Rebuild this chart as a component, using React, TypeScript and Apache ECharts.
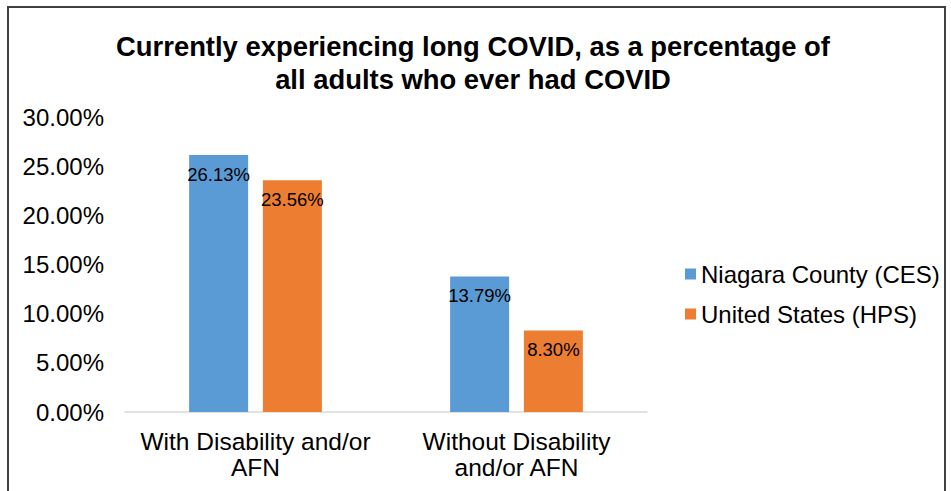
import React, { useEffect, useRef } from "react";
import * as echarts from "echarts";

const titleLines = [
  "Currently experiencing long COVID, as a percentage of",
  "all adults who ever had COVID",
];
const categories = ["With Disability and/or\nAFN", "Without Disability\nand/or AFN"];
const seriesNames = ["Niagara County (CES)", "United States (HPS)"];
const niagaraValues = [26.13, 13.79];
const usValues = [23.56, 8.3];
const colors = ["#5B9BD5", "#ED7D31"];

const FONT = "'Liberation Sans', Arial, sans-serif";

export default function App() {
  const ref = useRef<HTMLDivElement>(null);
  useEffect(() => {
    if (!ref.current) return;
    const chart = echarts.init(ref.current, undefined, { renderer: "svg" });
    const labelCfg = {
      show: true,
      position: "insideTop",
      distance: 10,
      fontFamily: FONT,
      fontSize: 18.5,
      color: "#000000",
      formatter: (p: any) => p.value.toFixed(2) + "%",
    };
    chart.setOption({
      animation: false,
      backgroundColor: "#ffffff",
      textStyle: { fontFamily: FONT },
      title: {
        text: titleLines.join("\n"),
        left: 468,
        top: 25,
        textAlign: "center",
        textStyle: {
          fontFamily: FONT,
          fontSize: 27.4,
          fontWeight: "bold",
          color: "#000000",
          lineHeight: 33,
        },
      },
      legend: {
        orient: "vertical",
        left: 680,
        top: 257,
        itemWidth: 11,
        itemHeight: 11,
        itemGap: 16,
        icon: "rect",
        data: seriesNames,
        textStyle: { fontFamily: FONT, fontSize: 24, color: "#000000", lineHeight: 24 },
      },
      grid: { left: 125, right: 304, top: 117, bottom: 79, containLabel: false },
      xAxis: {
        type: "category",
        data: categories,
        axisLine: { show: true, lineStyle: { color: "#D9D9D9", width: 1.5 } },
        axisTick: { show: false },
        axisLabel: {
          fontFamily: FONT,
          fontSize: 24.5,
          color: "#000000",
          lineHeight: 26,
          margin: 16,
          interval: 0,
        },
      },
      yAxis: {
        type: "value",
        min: 0,
        max: 30,
        interval: 5,
        axisLine: { show: false },
        axisTick: { show: false },
        splitLine: { show: false },
        axisLabel: {
          fontFamily: FONT,
          fontSize: 24,
          color: "#000000",
          margin: 21,
          formatter: (v: number) => v.toFixed(2) + "%",
        },
      },
      series: [
        {
          name: seriesNames[0],
          type: "bar",
          data: niagaraValues,
          barWidth: 59,
          barGap: "25%",
          itemStyle: { color: colors[0] },
          label: labelCfg,
        },
        {
          name: seriesNames[1],
          type: "bar",
          data: usValues,
          barWidth: 59,
          barGap: "25%",
          itemStyle: { color: colors[1] },
          label: labelCfg,
        },
      ],
      graphic: [
        {
          type: "rect",
          silent: true,
          shape: { x: 8, y: 7, width: 937, height: 600 },
          style: { fill: "none", stroke: "#404040", lineWidth: 2 },
        },
      ],
    });
    return () => chart.dispose();
  }, []);
  return (
    <div
      ref={ref}
      style={{ position: "absolute", left: 0, top: 0, width: 951, height: 491 }}
    />
  );
}
